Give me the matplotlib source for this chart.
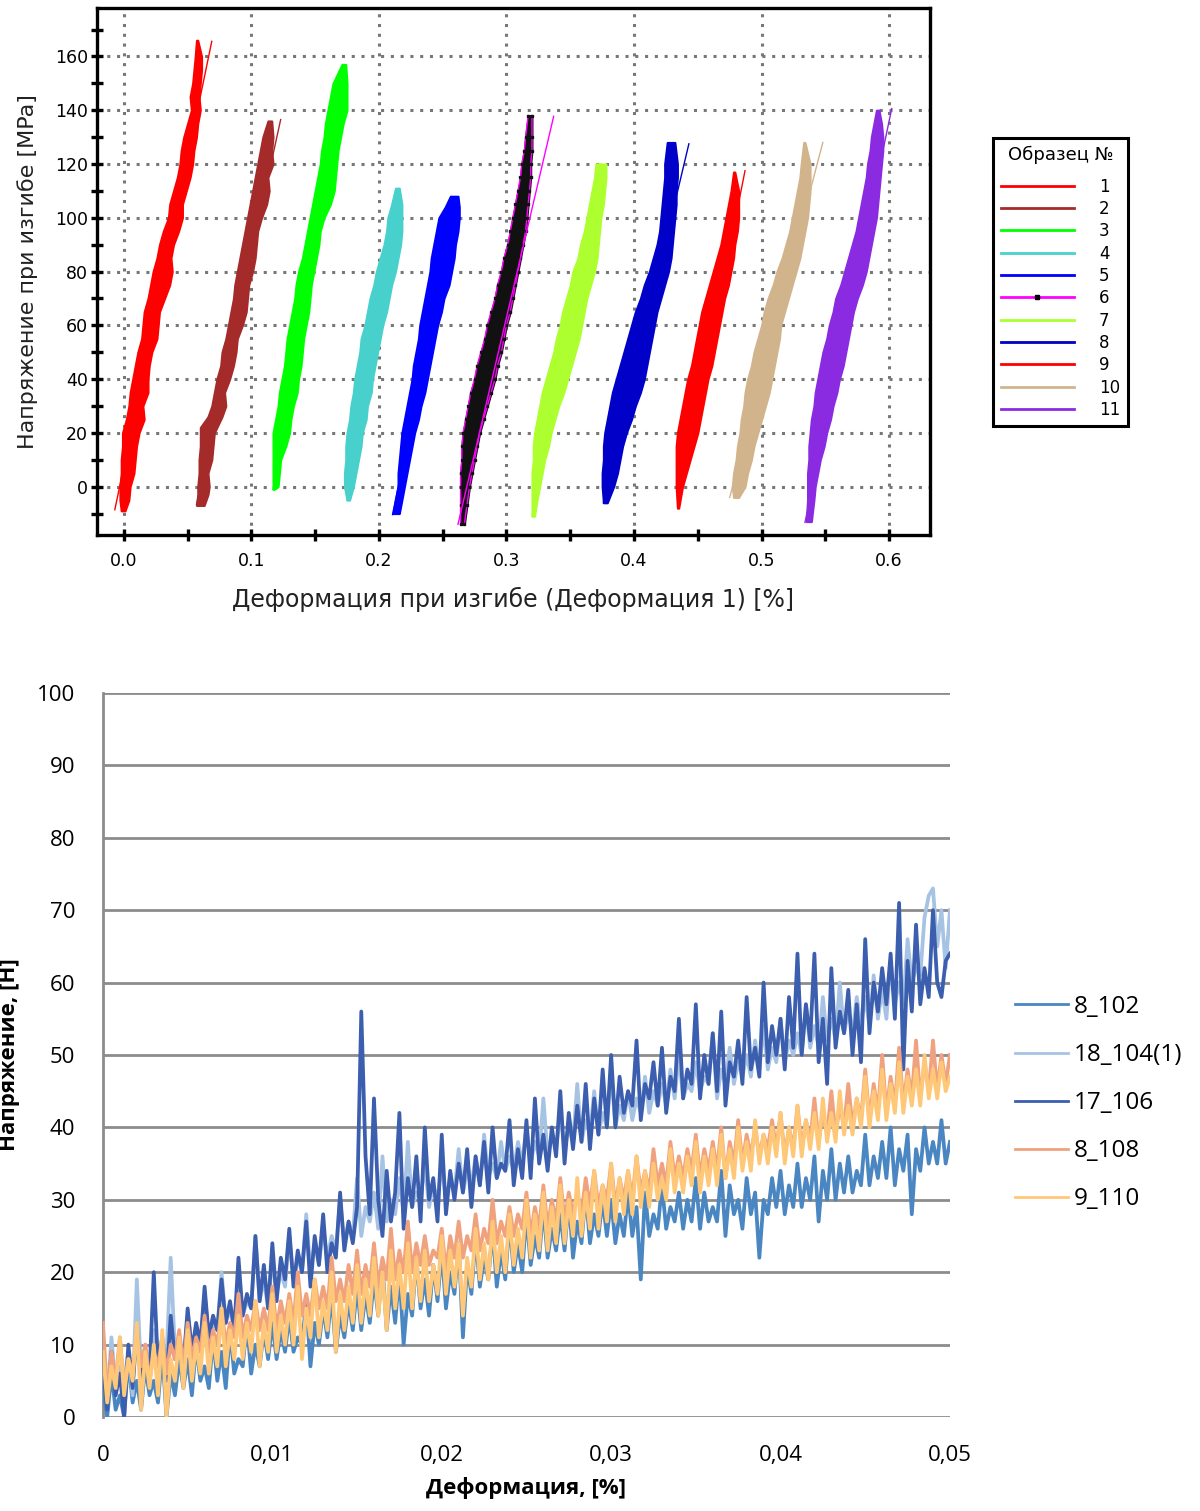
import matplotlib
matplotlib.use("Agg")
import matplotlib.pyplot as plt
import numpy as np
from matplotlib.lines import Line2D
from matplotlib.ticker import MultipleLocator, FuncFormatter

# ---- top chart: bending test, 11 specimens (envelope of the noisy trace) ----
specimen_labels = ["1", "2", "3", "4", "5", "6", "7", "8", "9", "10", "11"]

s1_stress = [-9, -5, 0, 5, 10, 15, 20, 25, 30, 35, 40, 45, 50, 55, 60, 65, 70, 75, 80, 85, 90,
             95, 100, 105, 110, 115, 120, 125, 130, 135, 140, 145, 150, 155, 160, 166]
s1_lo = [-0.002, -0.003, -0.003, -0.002, -0.002, -0.001, -0.001, 0.002, 0.004, 0.005,
         0.007, 0.009, 0.011, 0.014, 0.015, 0.016, 0.019, 0.021, 0.023, 0.026,
         0.028, 0.031, 0.035, 0.036, 0.039, 0.042, 0.044, 0.045, 0.047, 0.050,
         0.053, 0.052, 0.054, 0.055, 0.056, 0.057]
s1_hi = [0.001, 0.004, 0.005, 0.008, 0.009, 0.010, 0.012, 0.016, 0.015, 0.019,
         0.019, 0.020, 0.022, 0.026, 0.027, 0.028, 0.032, 0.036, 0.038, 0.037,
         0.039, 0.043, 0.046, 0.046, 0.049, 0.052, 0.054, 0.055, 0.057, 0.058,
         0.060, 0.059, 0.060, 0.061, 0.061, 0.058]

s2_stress = [-7, -3, 0, 5, 10, 15, 20, 22, 26, 30, 35, 40, 45, 50, 55, 60, 65, 70, 75, 80,
             85, 90, 95, 100, 105, 110, 115, 120, 125, 130, 136]
s2_lo = [0.057, 0.058, 0.058, 0.059, 0.059, 0.060, 0.060, 0.060, 0.066, 0.069,
         0.071, 0.073, 0.076, 0.077, 0.080, 0.082, 0.084, 0.086, 0.087, 0.089,
         0.091, 0.093, 0.095, 0.097, 0.099, 0.101, 0.103, 0.105, 0.107, 0.109, 0.113]
s2_hi = [0.063, 0.066, 0.067, 0.066, 0.069, 0.070, 0.071, 0.073, 0.077, 0.080,
         0.079, 0.083, 0.086, 0.088, 0.089, 0.093, 0.096, 0.097, 0.098, 0.101,
         0.103, 0.104, 0.105, 0.108, 0.112, 0.114, 0.113, 0.117, 0.116, 0.117, 0.116]

s3_stress = [-1, 0, 5, 10, 15, 20, 25, 30, 35, 40, 45, 50, 55, 60, 65, 70, 75, 80, 85, 90,
             95, 100, 105, 110, 115, 120, 125, 130, 135, 140, 145, 150, 157]
s3_lo = [0.117, 0.117, 0.117, 0.117, 0.117, 0.117, 0.119, 0.121, 0.122, 0.124,
         0.126, 0.127, 0.128, 0.130, 0.132, 0.134, 0.135, 0.137, 0.140, 0.142,
         0.144, 0.146, 0.148, 0.150, 0.152, 0.154, 0.155, 0.157, 0.158, 0.160,
         0.162, 0.164, 0.171]
s3_hi = [0.118, 0.121, 0.122, 0.123, 0.127, 0.130, 0.131, 0.133, 0.136, 0.137,
         0.139, 0.140, 0.141, 0.143, 0.145, 0.146, 0.147, 0.149, 0.151, 0.153,
         0.154, 0.157, 0.162, 0.165, 0.166, 0.167, 0.168, 0.170, 0.172, 0.175,
         0.175, 0.175, 0.174]

s4_stress = [-5, 0, 5, 10, 15, 20, 25, 30, 35, 40, 45, 50, 55, 60, 65, 70, 75, 80, 85, 90,
             95, 100, 105, 111]
s4_lo = [0.175, 0.173, 0.173, 0.174, 0.174, 0.175, 0.177, 0.178, 0.180, 0.181,
         0.183, 0.185, 0.186, 0.189, 0.191, 0.193, 0.196, 0.198, 0.201, 0.204,
         0.206, 0.207, 0.210, 0.213]
s4_hi = [0.177, 0.180, 0.182, 0.184, 0.186, 0.187, 0.190, 0.191, 0.194, 0.195,
         0.197, 0.199, 0.201, 0.203, 0.206, 0.208, 0.210, 0.213, 0.215, 0.217,
         0.218, 0.218, 0.218, 0.216]

s5_stress = [-10, -5, 0, 5, 10, 15, 20, 25, 30, 35, 40, 45, 50, 55, 60, 65, 70, 75, 80, 85,
             90, 95, 100, 104, 108]
s5_lo = [0.211, 0.213, 0.215, 0.215, 0.216, 0.217, 0.218, 0.220, 0.222, 0.224,
         0.226, 0.227, 0.229, 0.231, 0.232, 0.234, 0.236, 0.238, 0.240, 0.241,
         0.243, 0.245, 0.247, 0.252, 0.256]
s5_hi = [0.216, 0.218, 0.220, 0.222, 0.224, 0.226, 0.228, 0.231, 0.233, 0.236,
         0.238, 0.240, 0.242, 0.244, 0.246, 0.249, 0.251, 0.255, 0.257, 0.259,
         0.260, 0.262, 0.263, 0.263, 0.262]

s6_stress = [-14, -7, 0, 5, 10, 15, 20, 25, 30, 35, 40, 45, 50, 55, 60, 65, 70, 75, 80, 85,
             90, 95, 100, 105, 110, 115, 120, 125, 130, 138]
s6_lo = [0.264, 0.264, 0.264, 0.264, 0.265, 0.265, 0.266, 0.268, 0.270, 0.272,
         0.275, 0.277, 0.280, 0.283, 0.285, 0.288, 0.291, 0.293, 0.296, 0.298,
         0.301, 0.303, 0.305, 0.307, 0.309, 0.311, 0.312, 0.314, 0.315, 0.317]
s6_hi = [0.267, 0.269, 0.271, 0.273, 0.275, 0.277, 0.279, 0.282, 0.285, 0.288,
         0.291, 0.293, 0.296, 0.298, 0.300, 0.303, 0.305, 0.307, 0.309, 0.311,
         0.313, 0.315, 0.316, 0.317, 0.318, 0.319, 0.319, 0.320, 0.320, 0.320]

s7_stress = [-11, -5, 0, 5, 10, 15, 20, 25, 30, 35, 40, 45, 50, 55, 60, 65, 70, 75, 80, 85,
             90, 95, 100, 105, 110, 115, 120]
s7_lo = [0.320, 0.320, 0.320, 0.320, 0.321, 0.321, 0.322, 0.324, 0.326, 0.328,
         0.331, 0.334, 0.337, 0.339, 0.342, 0.344, 0.347, 0.350, 0.352, 0.356,
         0.358, 0.361, 0.363, 0.365, 0.367, 0.369, 0.370]
s7_hi = [0.322, 0.324, 0.326, 0.328, 0.330, 0.333, 0.335, 0.338, 0.341, 0.345,
         0.348, 0.351, 0.354, 0.357, 0.359, 0.361, 0.363, 0.366, 0.369, 0.371,
         0.372, 0.373, 0.374, 0.376, 0.377, 0.378, 0.378]

s8_stress = [-6, 0, 5, 10, 15, 20, 25, 30, 35, 40, 45, 50, 55, 60, 65, 70, 75, 80, 85, 90,
             95, 100, 105, 110, 115, 120, 128]
s8_lo = [0.376, 0.375, 0.375, 0.376, 0.376, 0.377, 0.379, 0.381, 0.383, 0.386,
         0.389, 0.392, 0.395, 0.398, 0.401, 0.405, 0.408, 0.412, 0.415, 0.418,
         0.420, 0.421, 0.422, 0.423, 0.424, 0.424, 0.426]
s8_hi = [0.379, 0.384, 0.387, 0.389, 0.391, 0.394, 0.398, 0.401, 0.405, 0.408,
         0.410, 0.412, 0.414, 0.416, 0.418, 0.421, 0.424, 0.427, 0.429, 0.430,
         0.431, 0.432, 0.433, 0.433, 0.434, 0.434, 0.432]

s9_stress = [-8, 0, 5, 10, 15, 20, 25, 30, 35, 40, 45, 50, 55, 60, 65, 70, 75, 80, 85, 90,
             95, 100, 105, 110, 117]
s9_lo = [0.434, 0.433, 0.433, 0.433, 0.433, 0.434, 0.436, 0.438, 0.440, 0.442,
         0.445, 0.447, 0.449, 0.451, 0.453, 0.456, 0.459, 0.462, 0.465, 0.468,
         0.470, 0.472, 0.474, 0.476, 0.478]
s9_hi = [0.435, 0.438, 0.441, 0.444, 0.447, 0.450, 0.452, 0.454, 0.456, 0.458,
         0.461, 0.463, 0.465, 0.467, 0.469, 0.471, 0.474, 0.476, 0.478, 0.479,
         0.481, 0.482, 0.482, 0.482, 0.479]

s10_stress = [-4, 0, 5, 10, 15, 20, 25, 30, 35, 40, 45, 50, 55, 60, 65, 70, 75, 80, 85, 90,
              95, 100, 105, 110, 115, 120, 128]
s10_lo = [0.478, 0.477, 0.478, 0.480, 0.481, 0.483, 0.484, 0.486, 0.487, 0.489,
          0.492, 0.494, 0.497, 0.500, 0.502, 0.505, 0.509, 0.512, 0.516, 0.519,
          0.522, 0.524, 0.526, 0.528, 0.530, 0.531, 0.533]
s10_hi = [0.482, 0.487, 0.489, 0.492, 0.494, 0.497, 0.500, 0.503, 0.506, 0.508,
          0.510, 0.512, 0.514, 0.515, 0.518, 0.521, 0.524, 0.527, 0.530, 0.532,
          0.534, 0.536, 0.537, 0.538, 0.538, 0.538, 0.534]

s11_stress = [-13, -5, 0, 5, 10, 15, 20, 25, 30, 35, 40, 45, 50, 55, 60, 65, 70, 75, 80, 85,
              90, 95, 100, 105, 110, 115, 120, 125, 130, 135, 140]
s11_lo = [0.535, 0.536, 0.536, 0.536, 0.537, 0.537, 0.538, 0.539, 0.541, 0.542,
          0.544, 0.546, 0.548, 0.551, 0.553, 0.556, 0.558, 0.562, 0.565, 0.568,
          0.571, 0.574, 0.576, 0.578, 0.580, 0.582, 0.583, 0.585, 0.586, 0.588, 0.590]
s11_hi = [0.539, 0.541, 0.542, 0.544, 0.546, 0.549, 0.551, 0.554, 0.556, 0.559,
          0.561, 0.564, 0.566, 0.568, 0.570, 0.572, 0.575, 0.579, 0.582, 0.584,
          0.586, 0.588, 0.590, 0.591, 0.592, 0.593, 0.594, 0.595, 0.595, 0.594, 0.592]

# straight modulus lines: (strain, stress) at start and end
fit_x0 = [-0.007, 0.057, 0.117, 0.175, 0.2107, 0.262, 0.320, 0.376, 0.4345, 0.475, 0.534]
fit_y0 = [-8.6, -6.7, -1, -5, -10.4, -14, -11, -6, -7.7, -4, -13.3]
fit_x1 = [0.069, 0.123, 0.172, 0.215, 0.260, 0.337, 0.374, 0.443, 0.487, 0.548, 0.602]
fit_y1 = [165.6, 136.5, 157, 110, 106, 137.7, 120, 127.5, 117.5, 128, 140.6]

# ---- bottom chart: five samples, 201 readings each ----
sample_labels = ["8_102", "18_104(1)", "17_106", "8_108", "9_110"]
strain_pct = np.linspace(0, 0.05, 201)

load_8_102 = [4, 0, 6, 1, 3, 0, 8, 2, 5, 1, 7, 3, 5, 2, 9, 0, 6, 3, 8, 4,
              8, 3, 10, 5, 7, 4, 11, 5, 9, 4, 12, 6, 8, 7, 13, 6, 10, 7, 12, 8,
              13, 8, 12, 9, 14, 9, 11, 10, 16, 7, 13, 10, 15, 11, 17, 9, 14, 11, 16, 12,
              18, 12, 17, 13, 19, 14, 21, 12, 18, 13, 20, 10, 17, 14, 22, 15, 19, 14, 21, 16,
              23, 15, 20, 17, 24, 11, 21, 17, 25, 18, 22, 19, 26, 18, 23, 19, 27, 20, 24, 20,
              28, 21, 25, 22, 29, 22, 26, 23, 28, 23, 30, 22, 27, 24, 31, 24, 28, 25, 30, 25,
              30, 24, 28, 25, 31, 25, 29, 19, 31, 25, 28, 26, 32, 26, 29, 27, 31, 26, 30, 27,
              33, 26, 31, 27, 29, 27, 34, 25, 32, 28, 30, 26, 33, 28, 31, 22, 30, 28, 33, 29,
              34, 28, 32, 29, 35, 29, 33, 30, 36, 27, 34, 30, 37, 30, 35, 31, 36, 31, 34, 32,
              39, 32, 36, 33, 38, 33, 40, 32, 37, 34, 39, 28, 37, 34, 40, 35, 38, 35, 41, 35,
              38]
load_18_104 = [8, 2, 11, 4, 7, 5, 9, 3, 19, 6, 10, 5, 12, 7, 9, 8, 22, 9, 11, 8,
               14, 10, 12, 9, 17, 11, 13, 12, 20, 13, 15, 12, 18, 14, 16, 15, 25, 16, 19, 15,
               22, 17, 20, 18, 25, 19, 22, 20, 28, 20, 24, 21, 26, 22, 25, 23, 30, 24, 27, 25,
               33, 25, 29, 27, 31, 26, 36, 27, 30, 28, 33, 28, 38, 29, 31, 30, 35, 29, 32, 30,
               35, 30, 33, 31, 37, 31, 34, 32, 36, 32, 39, 33, 35, 33, 38, 34, 36, 34, 38, 35,
               40, 35, 38, 36, 44, 36, 39, 37, 42, 37, 40, 38, 46, 38, 41, 39, 45, 39, 42, 40,
               48, 40, 43, 41, 45, 41, 44, 42, 47, 42, 45, 43, 46, 43, 48, 44, 50, 44, 46, 45,
               49, 45, 47, 46, 53, 44, 48, 46, 51, 46, 49, 47, 50, 47, 52, 48, 54, 48, 51, 49,
               55, 49, 52, 50, 53, 50, 57, 51, 54, 51, 58, 52, 55, 52, 60, 53, 56, 53, 58, 54,
               58, 54, 61, 55, 59, 55, 63, 57, 60, 57, 66, 60, 62, 61, 69, 72, 73, 65, 70, 62,
               70]
load_17_106 = [7, 1, 9, 3, 6, 0, 10, 4, 12, 5, 8, 6, 20, 7, 11, 5, 14, 8, 10, 7,
               15, 9, 13, 10, 18, 11, 14, 12, 19, 13, 16, 12, 22, 14, 17, 15, 25, 16, 21, 15,
               24, 16, 22, 19, 26, 18, 23, 20, 27, 18, 25, 21, 28, 20, 24, 22, 31, 23, 27, 24,
               29, 56, 36, 28, 44, 30, 25, 34, 27, 31, 42, 26, 33, 29, 36, 27, 40, 30, 33, 27,
               39, 28, 34, 30, 35, 31, 37, 29, 36, 32, 38, 31, 40, 33, 35, 34, 41, 32, 37, 33,
               41, 33, 44, 35, 39, 34, 40, 36, 45, 35, 42, 37, 43, 38, 46, 37, 44, 39, 48, 40,
               50, 40, 47, 42, 45, 43, 52, 41, 46, 44, 49, 43, 51, 42, 47, 45, 55, 44, 48, 46,
               57, 44, 50, 46, 53, 45, 56, 43, 49, 47, 52, 46, 58, 48, 51, 47, 60, 49, 54, 50,
               55, 48, 58, 51, 64, 50, 57, 52, 64, 49, 55, 46, 62, 51, 56, 53, 59, 50, 57, 49,
               66, 53, 60, 56, 62, 57, 64, 55, 71, 48, 63, 56, 68, 57, 62, 58, 70, 60, 58, 63,
               64]
load_8_108 = [13, 3, 9, 5, 11, 4, 8, 6, 12, 7, 10, 5, 9, 7, 11, 6, 10, 8, 12, 7,
              13, 8, 11, 9, 14, 9, 12, 10, 15, 10, 13, 11, 17, 11, 14, 12, 16, 12, 15, 12,
              18, 12, 16, 13, 17, 13, 20, 14, 17, 14, 19, 15, 18, 15, 22, 16, 19, 16, 21, 17,
              23, 17, 21, 18, 24, 18, 22, 19, 26, 19, 23, 20, 27, 20, 24, 21, 25, 21, 23, 22,
              26, 20, 25, 22, 27, 22, 25, 23, 28, 23, 26, 24, 30, 24, 27, 25, 29, 25, 28, 26,
              31, 25, 29, 26, 32, 26, 30, 27, 33, 27, 31, 28, 31, 28, 33, 29, 34, 29, 32, 30,
              35, 29, 33, 30, 34, 30, 36, 31, 34, 31, 37, 32, 35, 32, 38, 33, 36, 33, 37, 34,
              39, 33, 37, 34, 38, 34, 40, 33, 38, 35, 41, 35, 39, 36, 40, 36, 39, 37, 41, 37,
              42, 36, 40, 37, 43, 37, 41, 38, 44, 38, 42, 39, 45, 39, 43, 40, 46, 40, 44, 41,
              48, 41, 46, 42, 50, 42, 47, 43, 51, 43, 48, 44, 52, 44, 49, 45, 52, 45, 50, 46,
              50]
load_9_110 = [9, 2, 7, 4, 11, 3, 8, 5, 13, 1, 9, 4, 10, 3, 12, 0, 8, 5, 11, 4,
              12, 5, 10, 6, 13, 6, 11, 7, 15, 7, 12, 8, 14, 8, 13, 9, 16, 7, 13, 9,
              17, 9, 14, 10, 16, 10, 18, 8, 15, 11, 19, 11, 16, 12, 20, 9, 17, 12, 18, 13,
              21, 13, 19, 14, 22, 14, 20, 12, 23, 15, 21, 15, 24, 15, 22, 16, 23, 16, 21, 17,
              25, 17, 23, 18, 24, 14, 22, 18, 26, 19, 24, 19, 27, 20, 25, 20, 28, 21, 26, 22,
              30, 22, 28, 23, 31, 23, 29, 24, 32, 24, 30, 25, 33, 25, 31, 26, 34, 26, 32, 27,
              35, 27, 33, 28, 34, 28, 36, 29, 34, 29, 35, 30, 33, 30, 37, 31, 35, 31, 36, 32,
              38, 31, 36, 32, 37, 32, 39, 33, 37, 33, 40, 34, 38, 34, 41, 35, 39, 35, 40, 36,
              42, 35, 40, 36, 43, 36, 41, 37, 42, 37, 44, 38, 42, 38, 45, 39, 43, 39, 44, 40,
              47, 40, 45, 41, 48, 41, 46, 42, 49, 42, 47, 43, 48, 43, 50, 44, 48, 44, 49, 45,
              47]

spec_colors = ["#ff0000", "#a52a2a", "#00ff00", "#48d1cc", "#0000ff", "#111111",
               "#adff2f", "#0000c8", "#ff0000", "#d2b48c", "#8a2be2"]
fit_colors = list(spec_colors)
fit_colors[5] = "#ff00ff"
sample_colors = ["#4a87c2", "#a7c3e3", "#3b5eae", "#f0a27e", "#ffc878"]

fig = plt.figure(figsize=(12, 15.11), dpi=100)

# ================= top chart =================
ax1 = fig.add_axes([0.0808, 0.6459, 0.6942, 0.3488])
bands = [(s1_stress, s1_lo, s1_hi), (s2_stress, s2_lo, s2_hi), (s3_stress, s3_lo, s3_hi),
         (s4_stress, s4_lo, s4_hi), (s5_stress, s5_lo, s5_hi), (s6_stress, s6_lo, s6_hi),
         (s7_stress, s7_lo, s7_hi), (s8_stress, s8_lo, s8_hi), (s9_stress, s9_lo, s9_hi),
         (s10_stress, s10_lo, s10_hi), (s11_stress, s11_lo, s11_hi)]
for j, (s, lo, hi) in enumerate(bands):
    c = spec_colors[j]
    ax1.fill_betweenx(s, lo, hi, color=c, edgecolor=c, lw=1.5, zorder=3)
    if j == 5:
        # specimen 6 is logged as points, with magenta specks along the edges
        ax1.plot(lo, s, color="#ff00ff", lw=1.0, zorder=3)
        ax1.plot(hi, s, color="#ff00ff", lw=1.0, zorder=3)
        ax1.plot(lo + hi, s + s, "s", color="#111111", ms=2, zorder=3)
    ax1.plot([fit_x0[j], fit_x1[j]], [fit_y0[j], fit_y1[j]], color=fit_colors[j], lw=1.0, zorder=4)

ax1.set_xlim(-0.021, 0.632)
ax1.set_ylim(-18, 178)
ax1.xaxis.set_major_locator(MultipleLocator(0.1))
ax1.xaxis.set_minor_locator(MultipleLocator(0.05))
ax1.set_yticks(range(0, 161, 20))
ax1.set_yticks(range(-10, 171, 10), minor=True)
ax1.xaxis.set_major_formatter(FuncFormatter(lambda v, p: f"{v:.1f}"))
ax1.grid(True, which="major", color="#777777", ls=(0, (1, 2.2)), lw=2.2)
ax1.tick_params(which="both", direction="inout", length=9, width=2.4, labelsize=12.5,
                colors="black", pad=2)
ax1.tick_params(axis="x", which="both", pad=8)
for sp in ax1.spines.values():
    sp.set_linewidth(2.4)
ax1.set_xlabel("Деформация при изгибе (Деформация 1) [%]", fontsize=17, color="#222222", labelpad=12)
ax1.set_ylabel("Напряжение при изгибе [MPa]", fontsize=16, color="#222222", labelpad=12)

handles = []
for j in range(11):
    if j == 5:
        handles.append(Line2D([], [], color="#ff00ff", lw=2, marker="s", markersize=2.5,
                              markerfacecolor="black", markeredgecolor="black", markevery=[1]))
    else:
        handles.append(Line2D([], [], color=spec_colors[j], lw=2))
leg1 = ax1.legend(handles, specimen_labels, title="Образец №", loc="upper left",
                  bbox_to_anchor=(993 / 1200, 1 - 138 / 1511), bbox_transform=fig.transFigure,
                  fontsize=12, title_fontsize=13, handlelength=4.4, handletextpad=1.5,
                  labelspacing=0.26, borderpad=0.45, borderaxespad=0, fancybox=False,
                  edgecolor="black", framealpha=1)
leg1.get_frame().set_linewidth(2.2)
leg1._legend_box.sep = 10

# ================= bottom chart =================
bfont = ["Open Sans", "DejaVu Sans"]
ax2 = fig.add_axes([0.0858, 0.0622, 0.7058, 0.4792])
series = [load_8_102, load_18_104, load_17_106, load_8_108, load_9_110]
for j, vals in enumerate(series):
    ax2.plot(strain_pct, vals, color=sample_colors[j], lw=2.7, label=sample_labels[j], zorder=3)

ax2.set_xlim(0, 0.05)
ax2.set_ylim(0, 100)
ax2.set_yticks(range(0, 101, 10))
ax2.set_xticks(np.arange(0, 0.0501, 0.01))
ax2.xaxis.set_major_formatter(FuncFormatter(lambda v, p: "0" if abs(v) < 1e-9 else f"{v:.2f}".replace(".", ",")))
ax2.grid(True, axis="y", color="#8c8c8c", lw=2.0, zorder=1)
ax2.set_axisbelow(True)
for name in ["top", "right", "bottom"]:
    ax2.spines[name].set_visible(False)
ax2.spines["left"].set_color("#8c8c8c")
ax2.spines["left"].set_linewidth(2.0)
ax2.tick_params(length=0, labelsize=16, pad=20)
for lab in ax2.get_xticklabels() + ax2.get_yticklabels():
    lab.set_fontfamily(bfont)
ax2.set_xlabel("Деформация, [%]", fontsize=16, fontweight="bold", family=bfont, labelpad=8)
ax2.set_ylabel("Напряжение, [Н]", fontsize=16, fontweight="bold", family=bfont, labelpad=12)

leg2 = ax2.legend(loc="upper left", bbox_to_anchor=(1015 / 1200, 1 - 995 / 1511),
                  bbox_transform=fig.transFigure, frameon=False, handlelength=2.2,
                  handletextpad=0.2, labelspacing=0.99, borderpad=0, borderaxespad=0,
                  prop={"family": bfont, "size": 17.5})
for h in leg2.legend_handles:
    h.set_linewidth(2.0)

fig.savefig("out.png", dpi=100, facecolor="white")
